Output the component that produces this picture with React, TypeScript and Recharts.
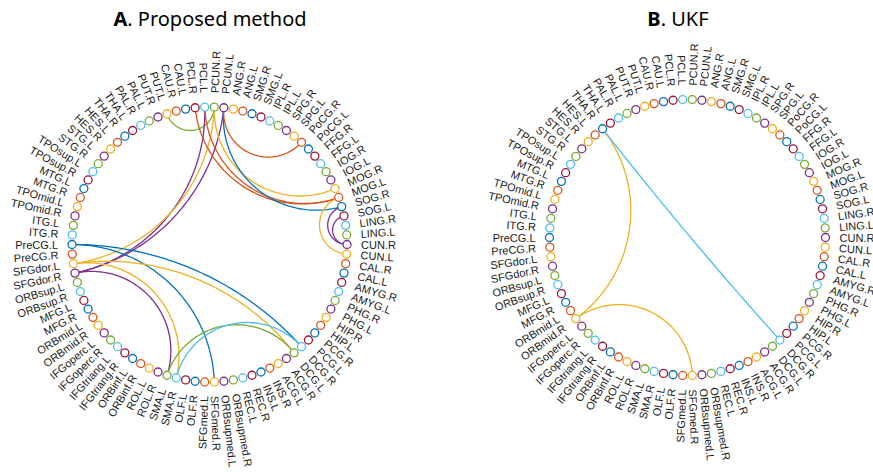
import { ScatterChart, Scatter, XAxis, YAxis } from 'recharts';

// AAL-90 regions, placed counter-clockwise from 9 o'clock
const regions = [
  'PreCG.L', 'PreCG.R', 'SFGdor.L', 'SFGdor.R', 'ORBsup.L', 'ORBsup.R', 'MFG.L', 'MFG.R',
  'ORBmid.L', 'ORBmid.R', 'IFGoperc.L', 'IFGoperc.R', 'IFGtriang.L', 'IFGtriang.R', 'ORBinf.L', 'ORBinf.R',
  'ROL.L', 'ROL.R', 'SMA.L', 'SMA.R', 'OLF.L', 'OLF.R', 'SFGmed.L', 'SFGmed.R',
  'ORBsupmed.L', 'ORBsupmed.R', 'REC.L', 'REC.R', 'INS.L', 'INS.R', 'ACG.L', 'ACG.R',
  'DCG.L', 'DCG.R', 'PCG.L', 'PCG.R', 'HIP.L', 'HIP.R', 'PHG.L', 'PHG.R',
  'AMYG.L', 'AMYG.R', 'CAL.L', 'CAL.R', 'CUN.L', 'CUN.R', 'LING.L', 'LING.R',
  'SOG.L', 'SOG.R', 'MOG.L', 'MOG.R', 'IOG.L', 'IOG.R', 'FFG.L', 'FFG.R',
  'PoCG.L', 'PoCG.R', 'SPG.L', 'SPG.R', 'IPL.L', 'IPL.R', 'SMG.L', 'SMG.R',
  'ANG.L', 'ANG.R', 'PCUN.L', 'PCUN.R', 'PCL.L', 'PCL.R', 'CAU.L', 'CAU.R',
  'PUT.L', 'PUT.R', 'PAL.L', 'PAL.R', 'THA.L', 'THA.R', 'HES.L', 'HES.R',
  'STG.L', 'STG.R', 'TPOsup.L', 'TPOsup.R', 'MTG.L', 'MTG.R', 'TPOmid.L', 'TPOmid.R',
  'ITG.L', 'ITG.R',
];

const palette = ['#0072BD', '#D95319', '#EDB120', '#7E2F8E', '#77AC30', '#4DBEEE', '#A2142F'];

const linksA: [string, string][] = [
  ['PCUN.R', 'PUT.L'],
  ['SFGdor.R', 'PCL.L'],
  ['SFGdor.R', 'PCUN.L'],
  ['SFGdor.L', 'PCUN.R'],
  ['MOG.L', 'PCL.R'],
  ['MOG.L', 'PCL.L'],
  ['MOG.R', 'PCUN.R'],
  ['SOG.R', 'PCUN.L'],
  ['PoCG.R', 'PCUN.L'],
  ['CUN.R', 'SOG.R'],
  ['CUN.R', 'SOG.L'],
  ['CUN.L', 'MOG.L'],
  ['PreCG.L', 'SFGmed.R'],
  ['PreCG.L', 'DCG.R'],
  ['SFGdor.L', 'DCG.L'],
  ['SFGdor.L', 'SMA.R'],
  ['SFGdor.R', 'SMA.L'],
  ['SMA.L', 'DCG.L'],
  ['SMA.R', 'DCG.R'],
];

const linksB: [string, string][] = [
  ['ORBmid.R', 'THA.R'],
  ['ORBmid.R', 'SFGmed.R'],
  ['DCG.R', 'THA.R'],
];

const angleOf = (i: number) => ((180 + 4 * i) * Math.PI) / 180;

// arc orthogonal to the unit circle between two nodes
function arcPoints(a: number, b: number) {
  const ux = Math.cos(a), uy = Math.sin(a);
  const vx = Math.cos(b), vy = Math.sin(b);
  const dot = ux * vx + uy * vy;
  if (1 + dot < 1e-4) return [{ x: ux, y: uy }, { x: vx, y: vy }];
  const delta = Math.acos(Math.max(-1, Math.min(1, dot)));
  const cx = (ux + vx) / (1 + dot);
  const cy = (uy + vy) / (1 + dot);
  const rad = Math.tan(delta / 2);
  const p0 = Math.atan2(uy - cy, ux - cx);
  let d = Math.atan2(vy - cy, vx - cx) - p0;
  while (d > Math.PI) d -= 2 * Math.PI;
  while (d < -Math.PI) d += 2 * Math.PI;
  const pts = [];
  for (let k = 0; k <= 60; k++) {
    const p = p0 + (d * k) / 60;
    pts.push({ x: cx + rad * Math.cos(p), y: cy + rad * Math.sin(p) });
  }
  return pts;
}

const NodeShape = (props: any) => {
  const { cx, cy, payload } = props;
  return <circle cx={cx} cy={cy} r={4} fill="#fff" stroke={payload.color} strokeWidth={1.3} />;
};

const LabelShape = (props: any) => {
  const { cx, cy, payload } = props;
  const deg = payload.deg;
  const right = Math.cos((deg * Math.PI) / 180) >= 0;
  const rot = right ? -deg : 180 - deg;
  return (
    <text
      x={cx}
      y={cy}
      transform={`rotate(${rot} ${cx} ${cy})`}
      textAnchor={right ? 'start' : 'end'}
      dominantBaseline="central"
      fontFamily="'Liberation Sans', Arial, sans-serif"
      fontSize={11}
      fill="#1a1a1a"
    >
      {payload.name}
    </text>
  );
};

const NoShape = () => <g />;

interface RingProps {
  left: number;
  width: number;
  height: number;
  cx: number;
  cy: number;
  r: number;
  links: [string, string][];
}

function Connectogram({ left, width, height, cx, cy, r, links }: RingProps) {
  const lx = cx - left;
  const nodes = regions.map((name, i) => ({
    x: Math.cos(angleOf(i)),
    y: Math.sin(angleOf(i)),
    name,
    color: palette[i % 7],
  }));
  const lr = 1 + 14 / r;
  const labels = regions.map((name, i) => ({
    x: lr * Math.cos(angleOf(i)),
    y: lr * Math.sin(angleOf(i)),
    name,
    deg: 180 + 4 * i,
  }));
  const chords = links.map(([p, q]) => {
    const i = regions.indexOf(p);
    const j = regions.indexOf(q);
    return { pts: arcPoints(angleOf(i), angleOf(j)), color: palette[Math.min(i, j) % 7] };
  });

  return (
    <div style={{ position: 'absolute', left, top: 0 }}>
      <ScatterChart width={width} height={height} margin={{ top: 0, right: 0, bottom: 0, left: 0 }}>
        <XAxis type="number" dataKey="x" hide allowDataOverflow domain={[-lx / r, (width - lx) / r]} />
        <YAxis type="number" dataKey="y" hide allowDataOverflow domain={[-(height - cy) / r, cy / r]} />
        {chords.map((c, k) => (
          <Scatter
            key={k}
            data={c.pts}
            fill={c.color}
            line={{ stroke: c.color, strokeWidth: 1.3 }}
            shape={NoShape}
            isAnimationActive={false}
          />
        ))}
        <Scatter data={nodes} shape={NodeShape} isAnimationActive={false} />
        <Scatter data={labels} shape={LabelShape} isAnimationActive={false} />
      </ScatterChart>
    </div>
  );
}

const titleStyle = {
  position: 'absolute' as const,
  top: 5,
  fontFamily: "'Noto Sans', sans-serif",
  fontSize: 20,
  color: '#000',
  textAlign: 'center' as const,
  width: 300,
};

export default function App() {
  return (
    <div style={{ position: 'absolute', left: 0, top: 0, width: 873, height: 472, background: '#fff', overflow: 'hidden' }}>
      <Connectogram left={0} width={436} height={472} cx={209.5} cy={244.5} r={137.5} links={linksA} />
      <Connectogram left={436} width={437} height={472} cx={687.5} cy={237.5} r={138} links={linksB} />
      <div style={{ ...titleStyle, left: 60 }}>
        <b>A</b>. Proposed method
      </div>
      <div style={{ ...titleStyle, left: 528 }}>
        <b>B</b>. UKF
      </div>
    </div>
  );
}
